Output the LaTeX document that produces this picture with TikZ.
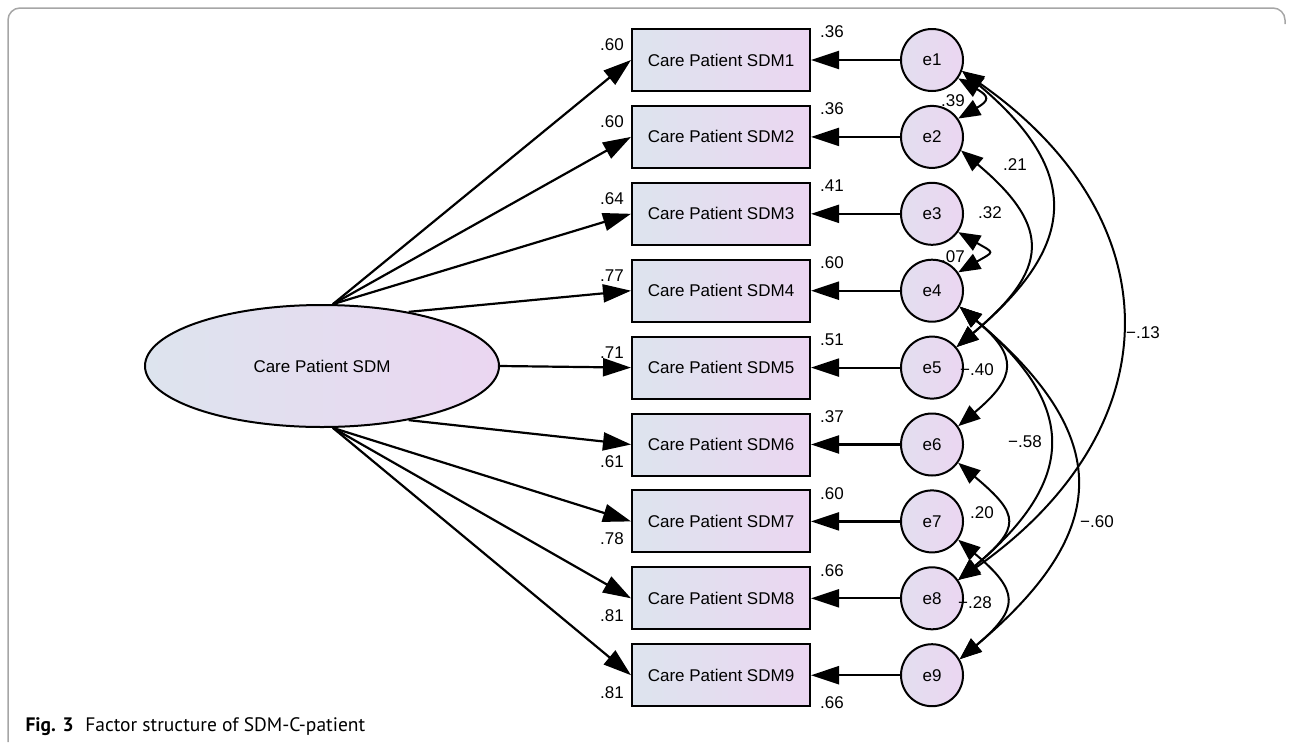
\documentclass[tikz,border=0pt]{standalone}
\usepackage{fontspec}
\setmainfont{Liberation Sans}
\newfontfamily\capfont{PT Sans}
\usetikzlibrary{arrows.meta,shapes.geometric}

\definecolor{shadeL}{HTML}{DDE4EE}
\definecolor{shadeR}{HTML}{EBD6F1}

\tikzset{
  obs/.style={draw, line width=2pt, rectangle, minimum width=178pt, minimum height=62pt,
    inner sep=0pt, left color=shadeL, right color=shadeR},
  err/.style={draw, line width=2pt, circle, minimum size=62pt, inner sep=0pt,
    left color=shadeL!60!shadeR, right color=shadeR},
  loading/.style={line width=2.2pt, -{Triangle[length=28pt,width=18pt]}},
  effect/.style={line width=2.2pt, -{Triangle[length=28pt,width=18pt]}},
  cov/.style={line width=2pt, {Triangle[length=22pt,width=17pt]}-{Triangle[length=22pt,width=17pt]}},
}

\begin{document}
\begin{tikzpicture}[x=1pt, y=1pt, font=\fontsize{17}{20}\selectfont]
\useasboundingbox (0,0) rectangle (1292,-745);
\draw[gray!70, line width=1.5pt, rounded corners=12pt] (8,-742) -- (8,-8) -- (1285,-8) -- (1285,-24);

% latent factor
\node[draw, ellipse, line width=2pt, minimum width=354pt, minimum height=122pt, inner sep=0pt,
  left color=shadeL, right color=shadeR] (F) at (322,-366) {Care Patient SDM};

% items, errors and estimates
\foreach \i/\lo/\rsq in {1/.60/.36, 2/.60/.36, 3/.64/.41, 4/.77/.60, 5/.71/.51,
                         6/.61/.37, 7/.78/.60, 8/.81/.66, 9/.81/.66}{
  \pgfmathsetmacro\yy{-60-76.9*(\i-1)}
  \pgfmathsetmacro\ly{\i<6 ? \yy+15 : \yy-17}
  \pgfmathsetmacro\ry{\i<9 ? \yy+28 : \yy-27}
  \node[obs] (x\i) at (721,\yy) {Care Patient SDM\i};
  \node[err] (e\i) at (932,\yy) {e\i};
  \draw[effect] (e\i) -- (x\i);
  \node (lo\i) at (612,\ly) {\lo};
  \node (r\i) at (832,\ry) {\rsq};
}

\foreach \i/\a in {1/80, 2/80, 3/80, 4/32, 5/0, 6/-32, 7/-80, 8/-80, 9/-80}
  \draw[loading] (F.\a) -- (x\i.west);

% covariances between errors
\draw[cov] (e1.-35) to[out=-30, in=30, looseness=2.3] (e2.35);
\draw[cov] (e3.-35) to[out=-30, in=30, looseness=2.7] (e4.35);
\draw[cov] (e1.-20) to[out=-40, in=40, looseness=1.46] (e5.40);
\draw[cov] (e2.-25) to[out=-40, in=40, looseness=1.56] (e5.40);
\draw[cov] (e1.-20) to[out=-35, in=35, looseness=1.31] (e8.35);
\draw[cov] (e4.-30) to[out=-40, in=40, looseness=1.64] (e6.35);
\draw[cov] (e4.-30) to[out=-40, in=40, looseness=1.45] (e8.35);
\draw[cov] (e4.-30) to[out=-40, in=40, looseness=1.46] (e9.30);
\draw[cov] (e6.-35) to[out=-40, in=40, looseness=1.79] (e8.35);
\draw[cov] (e7.-35) to[out=-40, in=40, looseness=1.7] (e9.30);

\node (c12) at (953,-101) {.39};
\node (c34) at (953,-257) {.07};
\node (c15) at (990,-213) {.32};
\node (c25) at (1015,-165) {.21};
\node (c18) at (1143,-333) {−.13};
\node (c46) at (977,-370) {−.40};
\node (c48) at (1025,-442) {−.58};
\node (c68) at (982,-513) {.20};
\node (c49) at (1097,-522) {−.60};
\node (c79) at (975,-603) {−.28};

\node[anchor=west, font=\capfont\fontsize{19.5}{22}\selectfont] (cap) at (22,-727)
  {\textbf{Fig. 3}\hspace{0.6em}Factor structure of SDM-C-patient};
\end{tikzpicture}
\end{document}
